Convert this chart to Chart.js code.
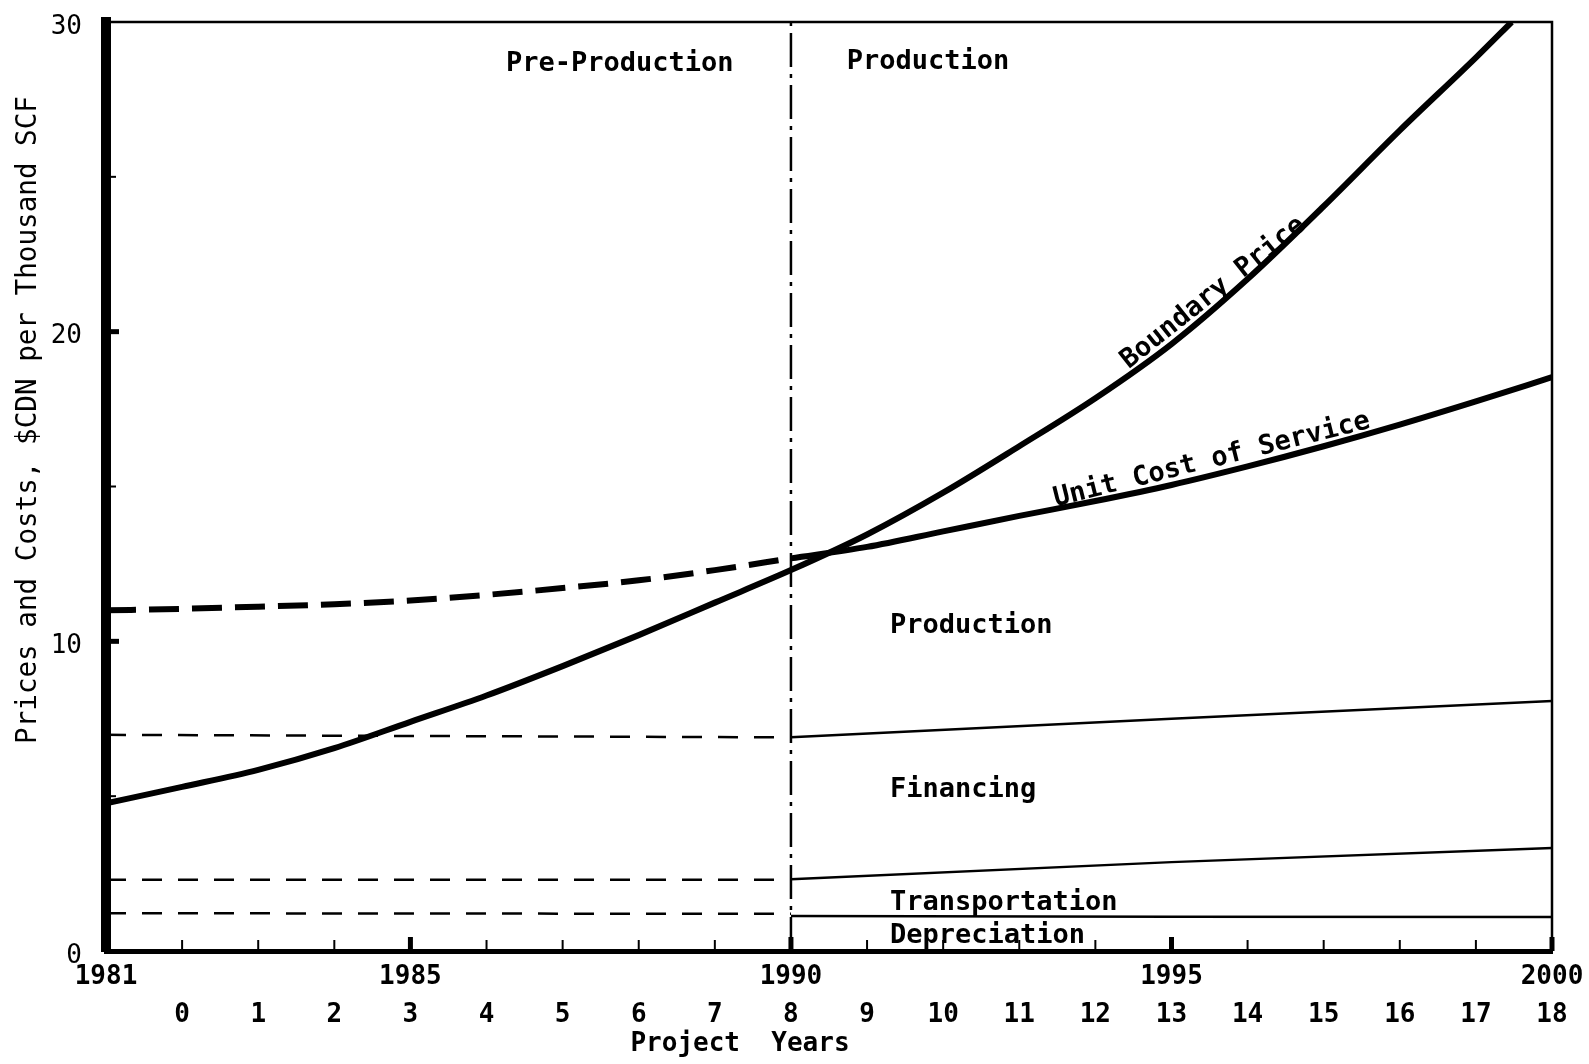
<!DOCTYPE html>
<html>
<head>
<meta charset="utf-8">
<script src="https://cdn.jsdelivr.net/npm/chart.js@4.4.1/dist/chart.umd.min.js"></script>
<style>
    html, body { margin: 0; padding: 0; background: #fff; }
</style>
</head>
<body>
<canvas id="costChart" width="1589" height="1064"></canvas>
<script>
// values, $CDN per thousand SCF
const boundaryYears = [1981, 1982, 1983, 1984, 1985, 1986, 1987, 1988, 1989, 1990,
    1991, 1992, 1993, 1994, 1995, 1996, 1997, 1998, 1999, 1999.47];
const boundaryPrice = [4.77, 5.3, 5.85, 6.55, 7.4, 8.25, 9.2, 10.2, 11.25, 12.3,
    13.45, 14.8, 16.3, 17.85, 19.6, 21.7, 24.05, 26.5, 28.85, 30];

const preYears = [1981, 1982, 1983, 1984, 1985, 1986, 1987, 1988, 1989, 1990];
const serviceCostPre = [11.0, 11.05, 11.12, 11.2, 11.32, 11.5, 11.72, 11.97, 12.3, 12.68];
const prodYears = [1990, 1991, 1992, 1993, 1994, 1995, 1996, 1997, 1998, 1999, 2000];
const serviceCostProd = [12.68, 13.05, 13.55, 14.05, 14.53, 15.05, 15.65, 16.3, 17.0, 17.75, 18.53];

// cost component boundaries
const preEnds = [1981, 1990];
const prodEnds = [1990, 1995, 2000];
const financingPre = [6.98, 6.9];
const financingProd = [6.9, 7.5, 8.07];
const transportPre = [2.3, 2.3];
const transportProd = [2.32, 2.87, 3.33];
const depreciationPre = [1.22, 1.2];
const depreciationProd = [1.13, 1.11, 1.1];

const productionStart = 1990;
const yearLabels = [1981, 1985, 1990, 1995, 2000];
const projectYearZero = 1982;

const MONO = "'DejaVu Sans Mono', monospace";

function pts(xs, ys) {
    return xs.map((x, i) => ({ x: x, y: ys[i] }));
}

// keep label overhang from shrinking the plot area
function noOverhang(s) {
    s.paddingTop = 0;
    s.paddingBottom = 0;
    s.paddingLeft = 0;
    s.paddingRight = 0;
}

// text written inside the plot, anchored in data units
const notes = [
    { text: "Pre-Production", x: 1987.75, y: 28.64, align: "center", rot: 0 },
    { text: "Production", x: 1991.8, y: 28.7, align: "center", rot: 0 },
    { text: "Production", x: 1991.3, y: 10.49, align: "left", rot: 0 },
    { text: "Financing", x: 1991.3, y: 5.2, align: "left", rot: 0 },
    { text: "Transportation", x: 1991.3, y: 1.56, align: "left", rot: 0 },
    { text: "Depreciation", x: 1991.3, y: 0.5, align: "left", rot: 0 },
    { text: "Boundary Price", x: 1995.55, y: 21.25, align: "center", rot: -38.5 },
    { text: "Unit Cost of Service", x: 1995.53, y: 15.85, align: "center", rot: -14 },
];

const decorPlugin = {
    id: "decor",
    afterDatasetsDraw(chart) {
        const { ctx, chartArea: a, scales } = chart;
        const xs = scales.x, ys = scales.y;
        ctx.save();
        ctx.strokeStyle = "#000";
        // thin frame on top and right
        ctx.lineWidth = 2.5;
        ctx.beginPath();
        ctx.moveTo(a.left, a.top);
        ctx.lineTo(a.right, a.top);
        ctx.lineTo(a.right, a.bottom);
        ctx.stroke();
        // inward ticks on the year axis
        for (let yr = 1982; yr <= 2000; yr++) {
            const px = xs.getPixelForValue(yr);
            const major = yr % 5 === 0;
            ctx.lineWidth = major ? 5 : 2;
            ctx.beginPath();
            ctx.moveTo(px, a.bottom);
            ctx.lineTo(px, a.bottom - (major ? 14 : 11));
            ctx.stroke();
        }
        // inward ticks on the price axis
        for (let v = 5; v < 30; v += 5) {
            const py = ys.getPixelForValue(v);
            const major = v % 10 === 0;
            ctx.lineWidth = major ? 5 : 2;
            ctx.beginPath();
            ctx.moveTo(a.left, py);
            ctx.lineTo(a.left + (major ? 13 : 10), py);
            ctx.stroke();
        }
        ctx.restore();
    },
    afterDraw(chart) {
        const { ctx, scales } = chart;
        const xs = scales.x, ys = scales.y;
        ctx.save();
        ctx.fillStyle = "#000";
        ctx.textBaseline = "middle";
        ctx.font = "bold 27px " + MONO;
        notes.forEach((n) => {
            ctx.save();
            ctx.translate(xs.getPixelForValue(n.x), ys.getPixelForValue(n.y));
            ctx.rotate((n.rot * Math.PI) / 180);
            ctx.textAlign = n.align;
            ctx.fillText(n.text, 0, 0);
            ctx.restore();
        });
        // axis titles
        ctx.textAlign = "center";
        ctx.font = "bold 26px " + MONO;
        ctx.fillText("Project  Years", 740, 1044);
        ctx.save();
        ctx.translate(29, 420);
        ctx.rotate(-Math.PI / 2);
        ctx.font = "27.6px " + MONO;
        ctx.fillText("Prices and Costs, $CDN per Thousand SCF", 0, 0);
        ctx.restore();
        ctx.restore();
    },
};

const thick = { borderColor: "#000", borderWidth: 6, pointRadius: 0, fill: false };
const thin = { borderColor: "#000", borderWidth: 2.5, pointRadius: 0, fill: false };

new Chart(document.getElementById("costChart"), {
    type: "line",
    data: {
        datasets: [
            { ...thick, label: "Boundary Price", data: pts(boundaryYears, boundaryPrice), cubicInterpolationMode: "monotone" },
            { ...thick, label: "Unit Cost of Service (pre)", data: pts(preYears, serviceCostPre), cubicInterpolationMode: "monotone", borderDash: [30, 13] },
            { ...thick, label: "Unit Cost of Service", data: pts(prodYears, serviceCostProd), cubicInterpolationMode: "monotone" },
            { ...thin, label: "Financing (pre)", data: pts(preEnds, financingPre), borderDash: [20, 16] },
            { ...thin, label: "Financing", data: pts(prodEnds, financingProd) },
            { ...thin, label: "Transportation (pre)", data: pts(preEnds, transportPre), borderDash: [20, 16] },
            { ...thin, label: "Transportation", data: pts(prodEnds, transportProd) },
            { ...thin, label: "Depreciation (pre)", data: pts(preEnds, depreciationPre), borderDash: [20, 16] },
            { ...thin, label: "Depreciation", data: pts(prodEnds, depreciationProd) },
            { ...thin, label: "Production start", data: pts([productionStart, productionStart], [0, 30]), borderDash: [34, 7, 4, 7] },
        ],
    },
    options: {
        responsive: false,
        animation: false,
        devicePixelRatio: 1,
        layout: { padding: { top: 22, right: 37, bottom: 31, left: 0 } },
        plugins: { legend: { display: false }, tooltip: { enabled: false } },
        scales: {
            x: {
                type: "linear",
                position: "bottom",
                min: 1981,
                max: 2000,
                grid: { display: false, drawTicks: false },
                border: { display: true, color: "#000", width: 5 },
                ticks: {
                    stepSize: 1,
                    autoSkip: false,
                    maxRotation: 0,
                    padding: 11,
                    color: "#000",
                    font: { family: MONO, size: 26, weight: "bold" },
                    callback: (v) => (yearLabels.includes(v) ? String(v) : ""),
                },
                afterFit: (s) => { s.height = 40; noOverhang(s); },
            },
            x2: {
                type: "linear",
                position: "bottom",
                min: 1981,
                max: 2000,
                grid: { display: false, drawTicks: false },
                border: { display: false },
                ticks: {
                    stepSize: 1,
                    autoSkip: false,
                    maxRotation: 0,
                    padding: 9,
                    color: "#000",
                    font: { family: MONO, size: 26, weight: "bold" },
                    callback: (v) => (v >= projectYearZero ? String(v - projectYearZero) : ""),
                },
                afterFit: (s) => { s.height = 42; noOverhang(s); },
            },
            y: {
                type: "linear",
                min: 0,
                max: 30,
                grid: { display: false, drawTicks: false },
                border: { display: true, color: "#000", width: 10 },
                ticks: {
                    stepSize: 5,
                    padding: 24,
                    labelOffset: 5,
                    color: "#000",
                    font: { family: MONO, size: 26 },
                    callback: (v) => (v % 10 === 0 ? String(v) : ""),
                },
                afterFit: (s) => { s.width = 106; noOverhang(s); },
            },
        },
    },
    plugins: [decorPlugin],
});
</script>
</body>
</html>
